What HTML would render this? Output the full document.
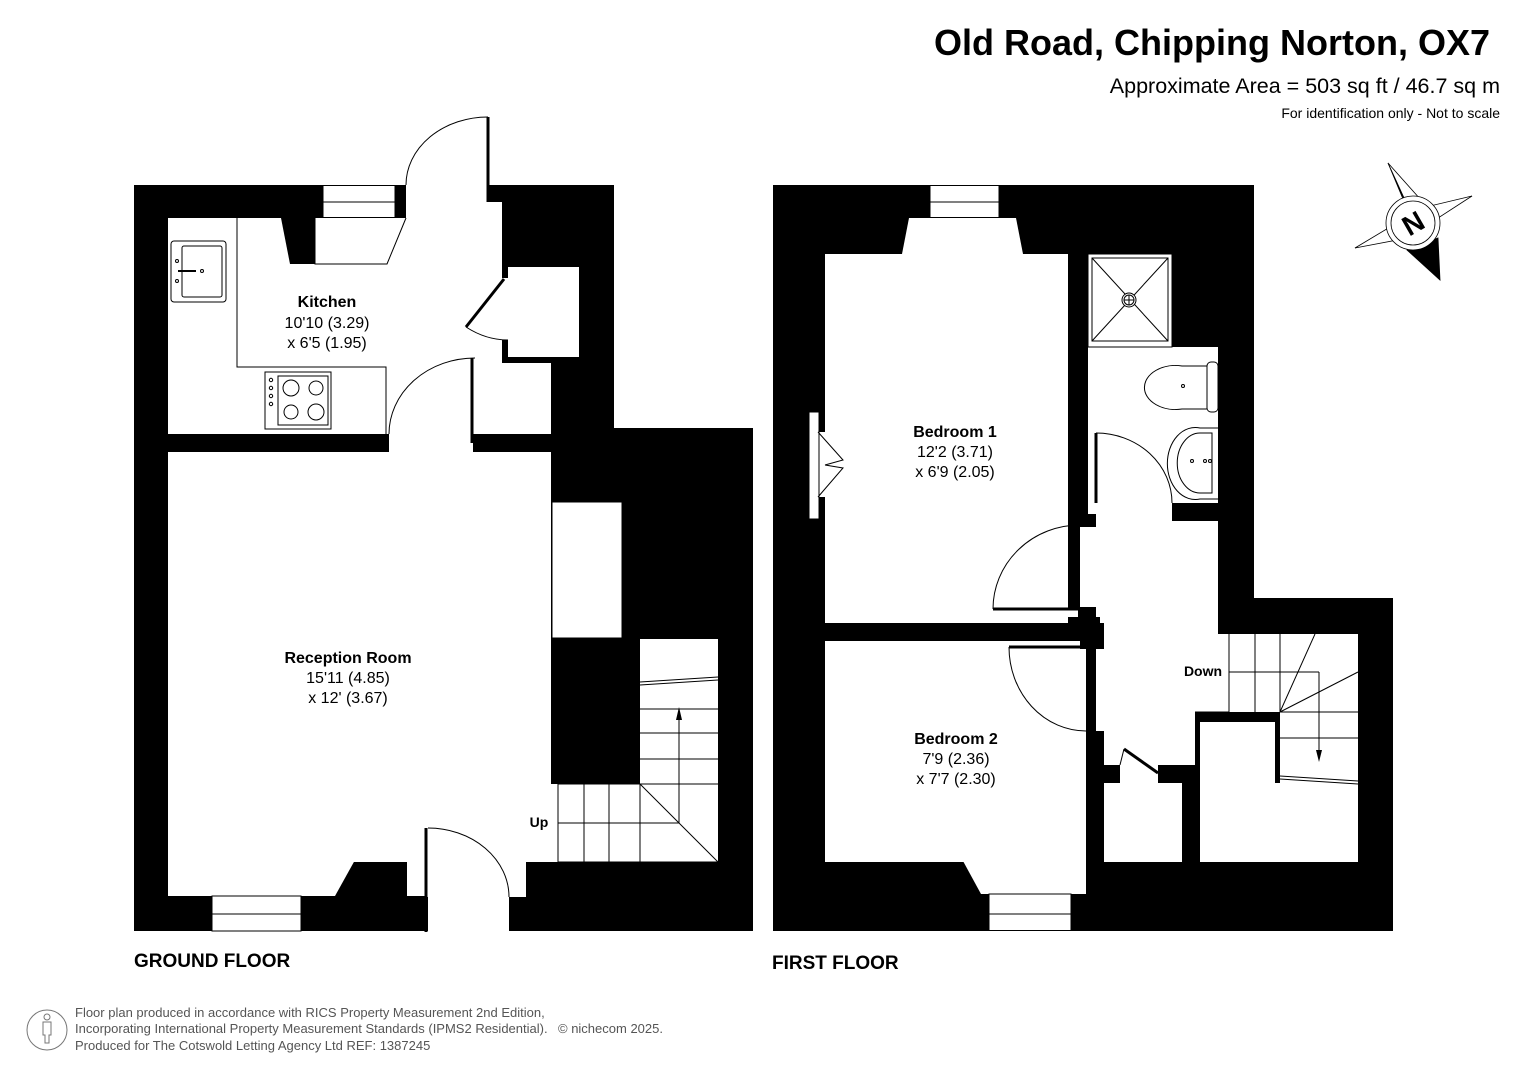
<!DOCTYPE html>
<html><head><meta charset="utf-8"><style>
html,body{margin:0;padding:0;background:#fff;}
svg{display:block;font-family:"Liberation Sans",Arial,sans-serif;}
</style></head><body>
<svg width="1527" height="1080" viewBox="0 0 1527 1080" xmlns="http://www.w3.org/2000/svg">
<text x="1490" y="55" text-anchor="end" font-size="36" font-weight="bold">Old Road, Chipping Norton, OX7</text>
<text x="1500" y="93" text-anchor="end" font-size="21.5">Approximate Area = 503 sq ft / 46.7 sq m</text>
<text x="1500" y="118" text-anchor="end" font-size="14">For identification only - Not to scale</text>

<g>
<rect x="134" y="185" width="480" height="746" fill="#000"/>
<rect x="613" y="428" width="140" height="503" fill="#000"/>
<g fill="#fff">
 <rect x="406" y="170" width="82" height="50"/>
 <rect x="488" y="202" width="14" height="16"/>
 <rect x="168" y="218" width="334" height="216"/>
 <rect x="475" y="363" width="76" height="71"/>
 <rect x="389" y="430" width="84" height="24"/>
 <rect x="508" y="267" width="71" height="90"/>
 <rect x="500" y="278" width="10" height="62"/>
 <rect x="323" y="185" width="72" height="33"/>
 <rect x="168" y="452" width="383" height="410"/>
 <rect x="552" y="502" width="70" height="136"/>
 <rect x="551" y="784" width="167" height="78"/>
 <rect x="640" y="639" width="78" height="223"/>
 <polygon points="168,860 355,860 335,896 168,896"/>
 <rect x="212" y="896" width="89" height="36"/>
 <rect x="407" y="860" width="119" height="37"/>
 <rect x="428" y="895" width="81" height="37"/>
</g>
<rect x="407" y="896" width="18" height="17" fill="#000"/>
<g fill="none" stroke="#000" stroke-width="1">
 <rect x="323" y="185.5" width="72" height="32"/>
 <line x1="323" y1="202" x2="395" y2="202"/>
 <rect x="212" y="896" width="89" height="35"/>
 <line x1="212" y1="914" x2="301" y2="914"/>
 <path d="M406,185 A82,68 0 0 1 488,117"/>
 <path d="M389,434 A86,76 0 0 1 475,358"/>
 <path d="M428,828 A81,69 0 0 1 509,897"/>
 <path d="M466,327 Q486,340 508,340"/>
 <polyline points="237,218 237,367 386,367 386,434"/>
 <polyline points="315,218 315,264 387,264 406,218"/>
 <rect x="552" y="502" width="70" height="136"/>
 <rect x="171" y="241" width="55" height="61" rx="3"/>
 <rect x="182" y="246" width="40" height="51" rx="2"/>
 <line x1="178" y1="271" x2="196" y2="271" stroke-width="2"/>
 <circle cx="202" cy="271" r="1.5"/>
 <circle cx="177" cy="261" r="1.5"/><circle cx="177" cy="281" r="1.5"/>
 <rect x="265" y="372" width="66" height="57"/>
 <rect x="278" y="376" width="50" height="49"/>
 <circle cx="291" cy="388" r="8"/><circle cx="316" cy="388" r="7"/>
 <circle cx="291" cy="412" r="7"/><circle cx="316" cy="412" r="8"/>
 <circle cx="271" cy="380" r="1.7"/><circle cx="271" cy="388" r="1.7"/><circle cx="271" cy="396" r="1.7"/><circle cx="271" cy="404" r="1.7"/>
 <line x1="640" y1="709" x2="718" y2="709"/>
 <line x1="640" y1="733" x2="718" y2="733"/>
 <line x1="640" y1="759" x2="718" y2="759"/>
 <line x1="558" y1="784" x2="718" y2="784"/>
 <line x1="558" y1="784" x2="558" y2="862"/>
 <line x1="584" y1="784" x2="584" y2="862"/>
 <line x1="609" y1="784" x2="609" y2="862"/>
 <line x1="640" y1="784" x2="640" y2="862"/>
 <line x1="640" y1="784" x2="718" y2="862"/>
 <line x1="558" y1="823" x2="679" y2="823"/>
 <line x1="679" y1="823" x2="679" y2="715"/>
 <line x1="640" y1="682" x2="718" y2="677"/>
 <line x1="640" y1="685" x2="718" y2="680"/>
 <line x1="558" y1="862" x2="718" y2="862"/>
</g>
<line x1="488" y1="117" x2="488" y2="202" stroke="#000" stroke-width="3"/>
<line x1="472" y1="358" x2="472" y2="443" stroke="#000" stroke-width="3"/>
<line x1="504" y1="279" x2="466" y2="327" stroke="#000" stroke-width="3"/>
<line x1="426" y1="828" x2="426" y2="932" stroke="#000" stroke-width="3"/>
<polygon points="281,218 315,218 315,264 290,264" fill="#000"/>
<polygon points="679,707 676,720 682,720" fill="#000"/>
<text x="539" y="827" text-anchor="middle" font-size="14" font-weight="bold">Up</text>
<text x="327" y="307" text-anchor="middle" font-size="16" font-weight="bold">Kitchen</text>
<text x="327" y="328" text-anchor="middle" font-size="16">10'10 (3.29)</text>
<text x="327" y="348" text-anchor="middle" font-size="16">x 6'5 (1.95)</text>
<text x="348" y="663" text-anchor="middle" font-size="16" font-weight="bold">Reception Room</text>
<text x="348" y="683" text-anchor="middle" font-size="16">15'11 (4.85)</text>
<text x="348" y="703" text-anchor="middle" font-size="16">x 12' (3.67)</text>
<text x="134" y="967" font-size="19" font-weight="bold">GROUND FLOOR</text>
</g>

<g>
<rect x="773" y="185" width="481" height="746" fill="#000"/>
<rect x="1253" y="598" width="140" height="333" fill="#000"/>
<g fill="#fff">
 <rect x="930" y="185" width="69" height="33"/>
 <polygon points="909,218 1016,218 1023,254 902,254"/>
 <rect x="825" y="254" width="243" height="369"/>
 <rect x="809" y="412" width="10" height="107"/>
 <rect x="818" y="432" width="8" height="65"/>
 <rect x="825" y="641" width="261" height="221"/>
 <polygon points="963,861 1086,861 1086,894 981,894"/>
 <rect x="989" y="894" width="82" height="37"/>
 <rect x="1088" y="254" width="84" height="93"/>
 <rect x="1088" y="347" width="130" height="156"/>
 <rect x="1088" y="347" width="8" height="167"/>
 <rect x="1096" y="503" width="122" height="230"/>
 <rect x="1100" y="521" width="118" height="262"/>
 <polygon points="993,609 1078,609 1078,617 993,617"/>
 <rect x="1080" y="527" width="20" height="80"/>
 <rect x="1104" y="641" width="120" height="130"/>
 <rect x="1218" y="634" width="140" height="228"/>
 <rect x="1200" y="712" width="20" height="150"/>
 <rect x="1009" y="641" width="83" height="6"/>
 <rect x="1120" y="765" width="38" height="18"/>
 <rect x="1104" y="783" width="78" height="79"/>
</g>
<g fill="#000">
 <rect x="1172" y="503" width="46" height="18"/>
 <rect x="1086" y="731" width="18" height="131"/>
 <rect x="1086" y="765" width="34" height="18"/>
 <rect x="1158" y="765" width="42" height="18"/>
 <rect x="1182" y="765" width="18" height="97"/>
 <rect x="1195" y="712" width="85" height="10"/>
 <rect x="1195" y="712" width="5" height="150"/>
 <rect x="1275" y="712" width="5" height="71"/>
 <rect x="1068" y="617" width="32" height="10"/>
 <rect x="1080" y="623" width="24" height="26"/>
</g>
<g fill="none" stroke="#000" stroke-width="1">
 <rect x="930" y="185.5" width="69" height="32"/>
 <line x1="930" y1="202" x2="999" y2="202"/>
 <rect x="989" y="894" width="82" height="36.5"/>
 <line x1="989" y1="914" x2="1071" y2="914"/>
 <rect x="809" y="412" width="10" height="107"/>
 <path d="M818,432 L843,460 L825,465 M818,497 L843,468 L825,465"/>
 <rect x="1088" y="254" width="84" height="93"/>
 <rect x="1092" y="258" width="76" height="83"/>
 <line x1="1092" y1="258" x2="1168" y2="341"/>
 <line x1="1168" y1="258" x2="1092" y2="341"/>
 <circle cx="1129" cy="300" r="7" fill="#fff"/>
 <circle cx="1129" cy="300" r="5"/>
 <line x1="1124" y1="300" x2="1134" y2="300"/><line x1="1129" y1="295" x2="1129" y2="305"/>
 <path d="M1207,366 L1182,366 A31,22 0 1 0 1182,409 L1207,409 Z"/>
 <rect x="1207" y="362" width="11" height="50" rx="4"/>
 <circle cx="1183" cy="386" r="1.5"/>
 <path d="M1218,428 L1200,428 A28,36 0 1 0 1200,499 L1218,499"/>
 <path d="M1212,433 L1200,433 A22,29 0 1 0 1200,493 L1212,493 Z"/>
 <circle cx="1192" cy="461" r="1.5"/><circle cx="1205" cy="461" r="1.5"/><circle cx="1210" cy="461" r="1.5"/>
 <path d="M1096,433 A76,70 0 0 1 1172,503"/>
 <path d="M993,609 A87,84 0 0 1 1080,525"/>
 <path d="M1009,647 A77,84 0 0 0 1086,731"/>
 <path d="M1124,749 Q1122,757 1120,765"/>
 <line x1="1229" y1="634" x2="1229" y2="712"/>
 <line x1="1255" y1="634" x2="1255" y2="712"/>
 <line x1="1229" y1="712" x2="1195" y2="712"/>
 <line x1="1280" y1="634" x2="1280" y2="712"/>
 <line x1="1229" y1="672" x2="1319" y2="672"/>
 <line x1="1319" y1="672" x2="1319" y2="755"/>
 <line x1="1280" y1="712" x2="1315" y2="634"/>
 <line x1="1280" y1="712" x2="1358" y2="672"/>
 <line x1="1280" y1="712" x2="1358" y2="712"/>
 <line x1="1280" y1="738" x2="1358" y2="738"/>
 <line x1="1280" y1="776" x2="1358" y2="781"/>
 <line x1="1280" y1="779" x2="1358" y2="784"/>
</g>
<line x1="1096" y1="433" x2="1096" y2="503" stroke="#000" stroke-width="3"/>
<line x1="993" y1="609" x2="1078" y2="609" stroke="#000" stroke-width="3"/>
<line x1="1009" y1="647" x2="1092" y2="647" stroke="#000" stroke-width="3"/>
<line x1="1124" y1="749" x2="1158" y2="773" stroke="#000" stroke-width="3"/>
<polygon points="1319,762 1316,750 1322,750" fill="#000"/>
<text x="1203" y="676" text-anchor="middle" font-size="14" font-weight="bold">Down</text>
<text x="955" y="437" text-anchor="middle" font-size="16" font-weight="bold">Bedroom 1</text>
<text x="955" y="457" text-anchor="middle" font-size="16">12'2 (3.71)</text>
<text x="955" y="477" text-anchor="middle" font-size="16">x 6'9 (2.05)</text>
<text x="956" y="744" text-anchor="middle" font-size="16" font-weight="bold">Bedroom 2</text>
<text x="956" y="764" text-anchor="middle" font-size="16">7'9 (2.36)</text>
<text x="956" y="784" text-anchor="middle" font-size="16">x 7'7 (2.30)</text>
<text x="772" y="969" font-size="19" font-weight="bold">FIRST FLOOR</text>
</g>

<g stroke="#000" stroke-width="0.8" fill="#fff">
 <polygon points="1388,163 1413,223 1472,196 1413,223 1355,248 1413,223 1440,280"/>
 <polygon points="1388,163 1405,200 1421,200"/>
 <polygon points="1472,196 1430,206 1432,222"/>
 <polygon points="1355,248 1395,224 1397,240"/>
 <polygon points="1407,250 1438,238 1440,280" fill="#000"/>
 <circle cx="1413" cy="223" r="27"/>
 <circle cx="1413" cy="223" r="22"/>
</g>
<text x="1413" y="233" text-anchor="middle" font-size="28" font-weight="bold" transform="rotate(-30 1413 223)">N</text>

<g fill="none" stroke="#777" stroke-width="1">
 <circle cx="47" cy="1030" r="20"/>
 <circle cx="47" cy="1017" r="3"/>
 <path d="M43,1022 L51,1022 L51,1035 L49,1035 L49,1043 L45,1043 L45,1035 L43,1035 Z"/>
</g>
<g font-size="13" fill="#555">
 <text x="75" y="1017">Floor plan produced in accordance with RICS Property Measurement 2nd Edition,</text>
 <text x="75" y="1033">Incorporating International Property Measurement Standards (IPMS2 Residential).</text>
 <text x="75" y="1050">Produced for The Cotswold Letting Agency Ltd  REF: 1387245</text>
 <text x="558" y="1033">© nichecom 2025.</text>
</g>
</svg>
</body></html>
